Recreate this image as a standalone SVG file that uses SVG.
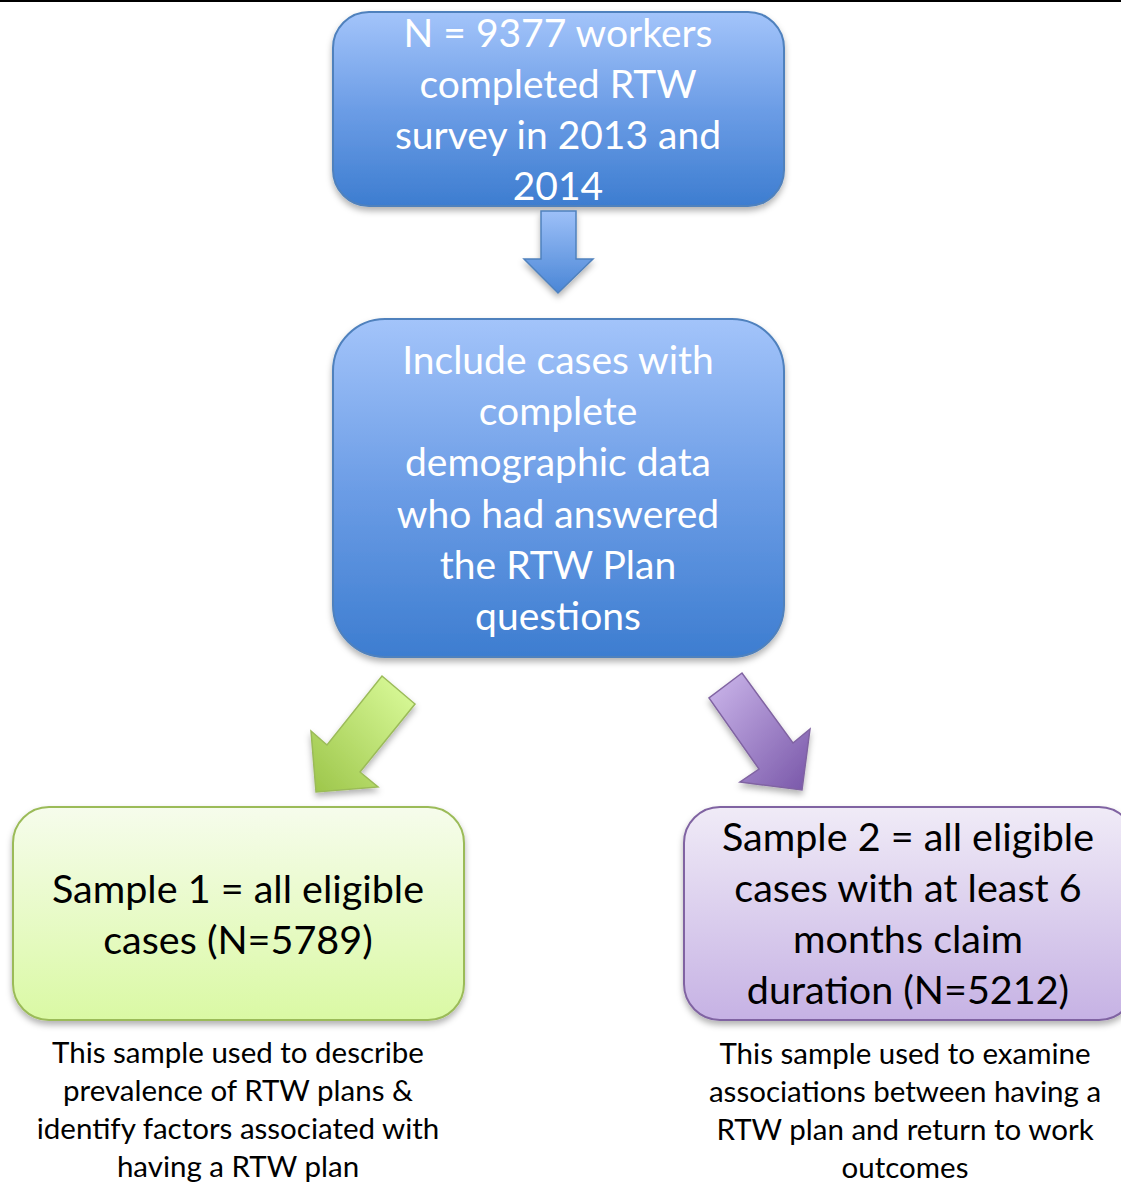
<svg xmlns="http://www.w3.org/2000/svg" width="1121" height="1182" viewBox="0 0 1121 1182">
<defs>
<linearGradient id="gBlue" x1="0" y1="0" x2="0" y2="1">
<stop offset="0" stop-color="#A3C4FA"/>
<stop offset="0.5" stop-color="#6C9DE6"/>
<stop offset="1" stop-color="#3D7DD0"/>
</linearGradient>
<linearGradient id="gBlueArrow" x1="0" y1="0" x2="0" y2="1">
<stop offset="0" stop-color="#9DC0F8"/>
<stop offset="1" stop-color="#4A86D6"/>
</linearGradient>
<linearGradient id="gGreen" x1="0" y1="0" x2="0" y2="1">
<stop offset="0" stop-color="#F6FCEC"/>
<stop offset="1" stop-color="#DAF9A4"/>
</linearGradient>
<linearGradient id="gPurple" x1="0" y1="0" x2="0" y2="1">
<stop offset="0" stop-color="#F0EBF7"/>
<stop offset="1" stop-color="#C6B2E4"/>
</linearGradient>
<linearGradient id="gGreenArrow" x1="1" y1="0" x2="0" y2="1">
<stop offset="0" stop-color="#DDFD9E"/>
<stop offset="1" stop-color="#9CC549"/>
</linearGradient>
<linearGradient id="gPurpleArrow" x1="0" y1="0" x2="1" y2="1">
<stop offset="0" stop-color="#CDB8EC"/>
<stop offset="1" stop-color="#7856A8"/>
</linearGradient>
<filter id="shadow" x="-10%" y="-10%" width="120%" height="130%">
<feDropShadow dx="0" dy="4" stdDeviation="3" flood-color="#000" flood-opacity="0.3"/>
</filter>
</defs>
<style>
.box{stroke-width:2}
.blue{fill:url(#gBlue);stroke:#4F81BD}
.green{fill:url(#gGreen);stroke:#9BBB59}
.purple{fill:url(#gPurple);stroke:#8064A2}
.t{font-family:Lato,"Liberation Sans",sans-serif;text-anchor:middle}
.tw{fill:#FFFFFF;font-size:39px}
.tb{fill:#000000;font-size:39.5px}
.cap{fill:#000000;font-size:29.5px}
</style>
<rect x="0" y="0" width="1121" height="2" fill="#000"/>
<g id="node-survey">
<rect class="box blue" x="333" y="12" width="451" height="194" rx="36" filter="url(#shadow)"/>
<text class="t tw" x="558" y="47">N = 9377 workers</text>
<text class="t tw" x="558" y="98">completed RTW</text>
<text class="t tw" x="558" y="149">survey in 2013 and</text>
<text class="t tw" x="558" y="200">2014</text>
</g>
<g id="node-include">
<rect class="box blue" x="333" y="319" width="451" height="338" rx="52" filter="url(#shadow)"/>
<text class="t tw" x="558" y="374">Include cases with</text>
<text class="t tw" x="558" y="425">complete</text>
<text class="t tw" x="558" y="476">demographic data</text>
<text class="t tw" x="558" y="528">who had answered</text>
<text class="t tw" x="558" y="579">the RTW Plan</text>
<text class="t tw" x="558" y="630">questions</text>
</g>
<g id="node-sample1">
<rect class="box green" x="13" y="807" width="451" height="213" rx="36" filter="url(#shadow)"/>
<text class="t tb" x="238" y="903">Sample 1 = all eligible</text>
<text class="t tb" x="238" y="954">cases (N=5789)</text>
<text class="t cap" x="238" y="1063">This sample used to describe</text>
<text class="t cap" x="238" y="1101">prevalence of RTW plans &amp;</text>
<text class="t cap" x="238" y="1139">identify factors associated with</text>
<text class="t cap" x="238" y="1177">having a RTW plan</text>
</g>
<g id="node-sample2">
<rect class="box purple" x="684" y="807" width="451" height="213" rx="36" filter="url(#shadow)"/>
<text class="t tb" x="908" y="851">Sample 2 = all eligible</text>
<text class="t tb" x="908" y="902">cases with at least 6</text>
<text class="t tb" x="908" y="953">months claim</text>
<text class="t tb" x="908" y="1004">duration (N=5212)</text>
<text class="t cap" x="905" y="1064">This sample used to examine</text>
<text class="t cap" x="905" y="1102">associations between having a</text>
<text class="t cap" x="905" y="1140">RTW plan and return to work</text>
<text class="t cap" x="905" y="1178">outcomes</text>
</g>
<g id="connectors">
<polygon points="541,211 576,211 576,259 593,259 558,293 524,259 541,259" fill="url(#gBlueArrow)" stroke="#4F81BD" stroke-width="1.5" filter="url(#shadow)"/>
<polygon points="382,676 415,704 360,772 378,787 316,792 311,731 327,745" fill="url(#gGreenArrow)" stroke="#9BBB59" stroke-width="1.5" filter="url(#shadow)"/>
<polygon points="742,673 709,698 759,769 740,782 802,790 810,729 793,743" fill="url(#gPurpleArrow)" stroke="#8064A2" stroke-width="1.5" filter="url(#shadow)"/>
</g>
</svg>
